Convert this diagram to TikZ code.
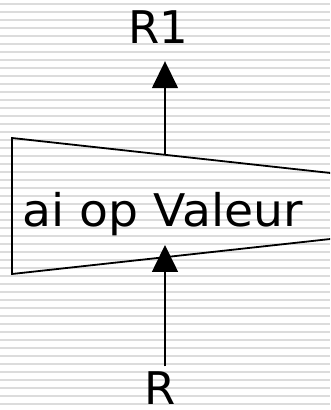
\documentclass[tikz,border=0pt]{standalone}
\usepackage{fontspec}
\setmainfont{DejaVu Sans}
\usepackage{xcolor}
\usetikzlibrary{arrows.meta, positioning}
\definecolor{stripegray}{RGB}{220,220,220}

\begin{document}
\begin{tikzpicture}[
  x=1pt, y=1pt,
  stripe/.style={draw=stripegray, line width=1.6pt},
  opbox/.style={draw=black, line width=1.8pt, line join=miter},
  label/.style={font=\fontsize{45}{50}\selectfont, inner sep=0pt, anchor=base},
  arrow/.style={-{Triangle[width=26pt, length=27pt]}, line width=1.6pt},
]
\useasboundingbox (0,0) rectangle (330,410);
\clip (0,0) rectangle (330,410);

% === Background stripes ===
\foreach \k in {0,...,50}
  \draw[stripe] (0,406-8*\k) -- (330,406-8*\k);

% === Operator box (cut at the right edge) ===
\coordinate (tl) at (12,272);
\coordinate (bl) at (12,136);
\coordinate (tr) at (345,235.4);
\coordinate (br) at (345,172.6);
\draw[opbox] (tr) -- (tl) -- (bl) -- (br);
\node[label, xscale=1.05] (op) at (163,183) {ai op Valeur};

% === Inputs and outputs ===
\node[label] (R1) at (158.5,366) {R1};
\node[label] (R) at (160,5.5) {R};

\coordinate (outfoot) at (165,255.3);
\coordinate (intip) at (165,165);

% === Arrows ===
\draw[arrow, shorten >=17pt] (outfoot) -- (outfoot |- R1.south);
\draw[arrow, shorten <=5pt] (R.north -| intip) -- (intip);

\end{tikzpicture}
\end{document}
